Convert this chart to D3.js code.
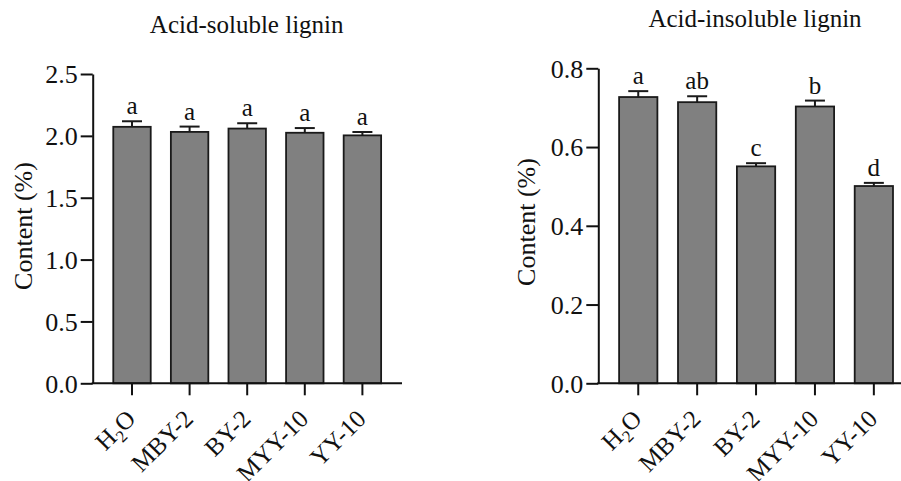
<!DOCTYPE html>
<html>
<head>
<meta charset="utf-8">
<script src="https://cdn.jsdelivr.net/npm/d3@7"></script>
<style>
  body { margin:0; background:#fff; }
  svg text { font-family:"Liberation Serif","Times New Roman",serif !important; fill:#111; }
</style>
</head>
<body>
<div id="chart"></div>
<script>
// treatments on the x axis (H2O gets a subscript)
var groups = ["H2O", "MBY-2", "BY-2", "MYY-10", "YY-10"]

// acid-soluble lignin, content (%)
var soluble_mean = [2.073, 2.032, 2.059, 2.025, 2.004]
var soluble_err  = [0.045, 0.043, 0.043, 0.038, 0.027]
var soluble_sig  = ["a", "a", "a", "a", "a"]
var soluble_ticks = [0, 0.5, 1.0, 1.5, 2.0, 2.5]

// acid-insoluble lignin, content (%)
var insoluble_mean = [0.727, 0.714, 0.551, 0.703, 0.501]
var insoluble_err  = [0.015, 0.015, 0.008, 0.015, 0.008]
var insoluble_sig  = ["a", "ab", "c", "b", "d"]
var insoluble_ticks = [0, 0.2, 0.4, 0.6, 0.8]

var W = 901, H = 481
var FONT = "'Liberation Serif', 'Times New Roman', serif"

var svg = d3.select("#chart").append("svg")
    .attr("width", W).attr("height", H)

function draw_panel(opt){
    var g = svg.append("g")
    var y0 = 383.3

    var y = d3.scaleLinear()
        .domain([0, opt.ymax])
        .range([y0, opt.ytop])

    var x = d3.scaleBand()
        .domain(groups)
        .range([opt.axis_x + 10.5, opt.axis_x + 10.5 + 5*opt.step])
        .paddingInner(0.35)
        .paddingOuter(0.175)

    // title
    g.append("text")
        .attr("x", opt.title_x).attr("y", opt.title_y)
        .attr("text-anchor", "middle")
        .style("font-size", "25px")
        .text(opt.title)

    // y label
    g.append("text")
        .attr("transform", "translate(" + opt.ylab_x + "," + opt.ylab_y + ") rotate(-90)")
        .attr("text-anchor", "middle")
        .style("font-size", "26px")
        .text("Content (%)")

    // bars
    g.selectAll(".bar")
        .data(opt.mean)
        .join("rect")
        .attr("x", (d, i) => x(groups[i]))
        .attr("y", d => y(d))
        .attr("width", x.bandwidth())
        .attr("height", d => y0 - y(d))
        .attr("fill", "#808080")
        .attr("stroke", "#1a1a1a")
        .attr("stroke-width", 1.8)

    // error bars (upper only)
    var cx = (i) => x(groups[i]) + x.bandwidth()/2
    g.selectAll(".err")
        .data(opt.mean)
        .join("line")
        .attr("x1", (d, i) => cx(i)).attr("x2", (d, i) => cx(i))
        .attr("y1", d => y(d))
        .attr("y2", (d, i) => y(d + opt.err[i]))
        .attr("stroke", "#1a1a1a").attr("stroke-width", 2)
    g.selectAll(".cap")
        .data(opt.mean)
        .join("line")
        .attr("x1", (d, i) => cx(i) - 10).attr("x2", (d, i) => cx(i) + 10)
        .attr("y1", (d, i) => y(d + opt.err[i]))
        .attr("y2", (d, i) => y(d + opt.err[i]))
        .attr("stroke", "#1a1a1a").attr("stroke-width", 2)

    // significance letters
    g.selectAll(".sig")
        .data(opt.sig)
        .join("text")
        .attr("x", (d, i) => cx(i))
        .attr("y", (d, i) => y(opt.mean[i] + opt.err[i]) - 7)
        .attr("text-anchor", "middle")
        .style("font-size", "25px")
        .text(d => d)

    // y axis
    var yaxis = g.append("g")
        .attr("transform", "translate(" + opt.axis_x + ",0)")
        .call(d3.axisLeft(y).tickValues(opt.ticks).tickFormat(d3.format(".1f")).tickSize(12).tickSizeOuter(0).tickPadding(3))
    yaxis.attr("font-family", FONT)
    yaxis.selectAll("path,line").attr("stroke", "#111").attr("stroke-width", 2)
    yaxis.selectAll("text").style("font-size", "26px").attr("fill", "#111")
        .attr("dy", "0.34em")

    // x axis line + ticks
    g.append("line")
        .attr("x1", opt.axis_x - 1).attr("x2", opt.x_end)
        .attr("y1", y0).attr("y2", y0)
        .attr("stroke", "#111").attr("stroke-width", 2)
    var xaxis = g.append("g")
        .attr("transform", "translate(0," + y0 + ")")
        .call(d3.axisBottom(x).tickSize(12).tickFormat(""))
    xaxis.select(".domain").remove()
    xaxis.selectAll("line").attr("stroke", "#111").attr("stroke-width", 2)

    // x labels, rotated
    var lab = g.selectAll(".xlab")
        .data(groups)
        .join("text")
        .attr("transform", (d, i) => "translate(" + (cx(i) + 5) + "," + (y0 + 37) + ") rotate(-45)")
        .attr("text-anchor", "end")
        .style("font-size", "25px")
    lab.each(function(d){
        var t = d3.select(this)
        if (d == "H2O"){
            t.append("tspan").text("H")
            t.append("tspan").text("2").style("font-size", "17px").attr("dy", "0.35em")
            t.append("tspan").text("O").attr("dy", "-0.24em")
        } else {
            t.text(d)
        }
    })
}

draw_panel({
    title:"Acid-soluble lignin", title_x:246.7, title_y:33,
    ylab_x:32, ylab_y:226,
    axis_x:92.7, step:57.6, x_end:402,
    ymax:2.5, ytop:74,
    mean:soluble_mean, err:soluble_err, sig:soluble_sig, ticks:soluble_ticks
})

draw_panel({
    title:"Acid-insoluble lignin", title_x:755, title_y:26.7,
    ylab_x:535, ylab_y:222,
    axis_x:598.3, step:58.9, x_end:905,
    ymax:0.8, ytop:68.3,
    mean:insoluble_mean, err:insoluble_err, sig:insoluble_sig, ticks:insoluble_ticks
})
</script>
</body>
</html>
